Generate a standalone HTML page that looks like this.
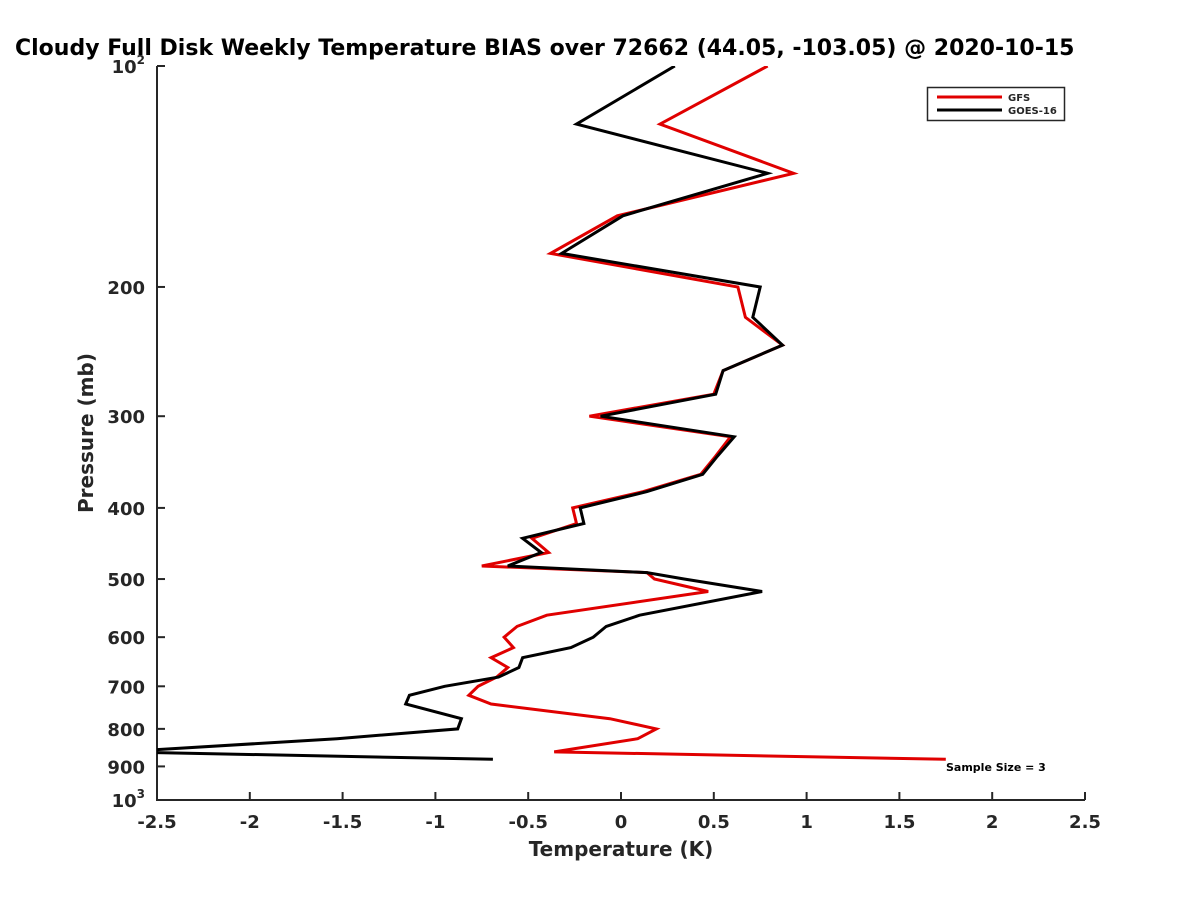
<!DOCTYPE html>
<html><head><meta charset="utf-8"><style>
body{margin:0;background:#fff}
svg{display:block;font-family:"DejaVu Sans","Liberation Sans",sans-serif;font-weight:bold}
</style></head><body>
<svg id="chart" width="1200" height="900" xmlns="http://www.w3.org/2000/svg">
<rect width="1200" height="900" fill="#fff"/>
<text x="15" y="55" font-size="22" fill="#000">Cloudy Full Disk Weekly Temperature BIAS over 72662 (44.05, -103.05) @ 2020-10-15</text>
<defs><clipPath id="plotclip"><rect x="157" y="66" width="928" height="734"/></clipPath></defs>
<g id="axes"></g>
<g id="series" clip-path="url(#plotclip)"></g>
<g>
<rect x="927.5" y="87.5" width="137" height="33" fill="#fff" stroke="#262626" stroke-width="1.5"/>
<line x1="937" y1="97" x2="1002" y2="97" stroke="#e00000" stroke-width="3"/>
<text x="1008" y="101" font-size="10" fill="#262626">GFS</text>
<line x1="937" y1="110" x2="1002" y2="110" stroke="#000" stroke-width="3"/>
<text x="1008" y="114" font-size="10" fill="#262626">GOES-16</text>
</g>
<text x="946" y="771" font-size="11" fill="#000">Sample Size = 3</text>
<text x="621" y="856" font-size="20" text-anchor="middle" fill="#262626">Temperature (K)</text>
<text transform="translate(93,433) rotate(-90)" font-size="20" text-anchor="middle" fill="#262626">Pressure (mb)</text>
</svg>
<script>
const pressures=[100,120,140,160,180,200,220,240,260,280,300,320,340,360,380,400,420,440,460,480,490,500,520,560,580,600,620,640,660,680,700,720,740,775,800,825,860,880];
const gfsBias=[0.79,0.21,0.93,-0.02,-0.38,0.63,0.67,0.87,0.55,0.50,-0.17,0.59,0.51,0.43,0.12,-0.26,-0.24,-0.48,-0.39,-0.75,0.14,0.18,0.47,-0.40,-0.56,-0.63,-0.58,-0.70,-0.61,-0.67,-0.77,-0.82,-0.70,-0.06,0.19,0.09,-0.36,1.75];
const goesBias=[0.29,-0.24,0.79,0.01,-0.32,0.75,0.71,0.87,0.55,0.51,-0.11,0.61,0.52,0.44,0.14,-0.22,-0.20,-0.53,-0.43,-0.61,0.14,0.34,0.76,0.10,-0.08,-0.15,-0.27,-0.53,-0.55,-0.66,-0.95,-1.14,-1.16,-0.86,-0.88,-1.53,-2.7,-0.69];
const xTicks=[-2.5,-2,-1.5,-1,-0.5,0,0.5,1,1.5,2,2.5];
const yTicks=[100,200,300,400,500,600,700,800,900,1000];
const L=157,R=1085,T=66,B=800;
const xs=v=>L+(v+2.5)/5*(R-L);
const ys=p=>T+Math.log10(p/100)*(B-T);
const NS="http://www.w3.org/2000/svg";
const axes=document.getElementById('axes'),series=document.getElementById('series');
function mk(tag,attrs,parent){const e=document.createElementNS(NS,tag);for(const k in attrs)e.setAttribute(k,attrs[k]);parent.appendChild(e);return e;}
const ax=mk('path',{d:`M${L},${T}V${B}H${R}`,fill:'none',stroke:'#262626','stroke-width':2},axes);


xTicks.forEach(v=>{
 const x=xs(v);
 const t=mk('line',{x1:x,y1:B,x2:x,y2:B-8,stroke:'#262626','stroke-width':2},axes);
 
 
 const lb=mk('text',{x:x,y:B+28,'font-size':18,'text-anchor':'middle',fill:'#262626'},axes);
 lb.textContent=String(v);
 
 
});
yTicks.forEach(p=>{
 const y=ys(p);
 const t=mk('line',{x1:L,y1:y,x2:L+8,y2:y,stroke:'#262626','stroke-width':2},axes);
 
 
 const lb=mk('text',{x:L-12,y:y+7,'font-size':18,'text-anchor':'end',fill:'#262626'},axes);
 if(p===100||p===1000){lb.textContent='10';const s=mk('tspan',{dy:-9,'font-size':12},lb);s.textContent=p===100?'2':'3';}
 else lb.textContent=String(p);
 
 
});
function line(vals,color,name){
 const d=vals.map((v,i)=>(i?'L':'M')+xs(v).toFixed(1)+','+ys(pressures[i]).toFixed(1)).join('');
 const p=mk('path',{d:d,fill:'none',stroke:color,'stroke-width':3,'stroke-linejoin':'miter'},series);
 
 
}
line(gfsBias,'#e00000','gfs-line');
line(goesBias,'#000000','goes-16-line');
</script>
</body></html>
